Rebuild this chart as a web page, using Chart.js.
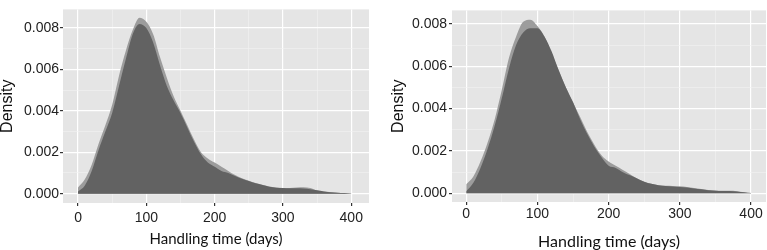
<!DOCTYPE html>
<html>
<head>
<meta charset="utf-8">
<script src="https://cdn.jsdelivr.net/npm/chart.js@4"></script>
<style>
  body { margin: 0; background: #fff; }
  .wrap { position: relative; width: 767px; height: 250px; }
  canvas { position: absolute; top: 0; }
</style>
</head>
<body>
<div class="wrap">
  <canvas id="leftDensity" width="380" height="250" style="left:0"></canvas>
  <canvas id="rightDensity" width="382" height="250" style="left:385px"></canvas>
</div>
<script>
// handling time grid (days)
const days = [0, 10, 20, 30, 40, 50, 60, 70, 80, 90, 100, 110, 120, 130, 140, 150, 160, 170, 180, 190,
  200, 210, 220, 230, 240, 250, 260, 270, 280, 290, 300, 310, 320, 330, 340, 350, 360, 370, 380, 390, 400];

// left panel densities
const leftLight = [0.0003, 0.0007, 0.0014, 0.0024, 0.0033, 0.0043, 0.0057, 0.0069, 0.0079, 0.0085, 0.0083,
  0.0077, 0.0066, 0.0056, 0.0047, 0.0040, 0.0033, 0.0026, 0.0020, 0.0017,
  0.0015, 0.0013, 0.0011, 0.0009, 0.00075, 0.00063, 0.00052, 0.00043, 0.00035, 0.0003,
  0.00028, 0.00028, 0.0003, 0.00031, 0.00027, 0.00015, 0.0001, 0.00007, 0.00005, 0.00003, 0.00001];
const leftDark = [0.0001, 0.0004, 0.0011, 0.0021, 0.0030, 0.0039, 0.0052, 0.0065, 0.0077, 0.0082, 0.0080,
  0.0073, 0.0062, 0.0052, 0.0045, 0.0039, 0.0032, 0.0025, 0.0019, 0.0015,
  0.0013, 0.0011, 0.0010, 0.00085, 0.00072, 0.00061, 0.0005, 0.00042, 0.00034, 0.00029,
  0.00027, 0.00026, 0.00026, 0.00025, 0.00022, 0.00016, 0.00011, 0.00007, 0.00005, 0.00003, 0.00001];

// right panel densities
const rightLight = [0.00043, 0.0008, 0.0015, 0.0024, 0.0035, 0.0049, 0.0064, 0.0074, 0.0081, 0.0082, 0.0079,
  0.0074, 0.0066, 0.0058, 0.0050, 0.0043, 0.0036, 0.0029, 0.0023, 0.0018,
  0.0015, 0.0013, 0.0011, 0.0009, 0.0007, 0.00055, 0.00045, 0.00038, 0.00036, 0.00035,
  0.00033, 0.0003, 0.00025, 0.0002, 0.00016, 0.00013, 0.00012, 0.00012, 0.0001, 0.00005, 0.00001];
const rightDark = [0.0001, 0.0005, 0.0012, 0.0021, 0.0032, 0.0045, 0.0059, 0.0070, 0.0076, 0.0078, 0.0078,
  0.0074, 0.0067, 0.0058, 0.0050, 0.0043, 0.0035, 0.0028, 0.0022, 0.0017,
  0.0013, 0.0012, 0.0010, 0.00085, 0.0007, 0.00055, 0.00045, 0.00038, 0.00034, 0.00032,
  0.0003, 0.00027, 0.00023, 0.00019, 0.00015, 0.00012, 0.00011, 0.00011, 0.00009, 0.00005, 0.00001];

// axis ticks
const xTicks = [0, 50, 100, 150, 200, 250, 300, 350, 400];
const yTicks = [0, 0.001, 0.002, 0.003, 0.004, 0.005, 0.006, 0.007, 0.008];

const panelBg = {
  id: "panelBg",
  beforeDraw(chart) {
    const { ctx, chartArea: a } = chart;
    ctx.save();
    ctx.fillStyle = "#e5e5e5";
    ctx.fillRect(a.left, a.top, a.right - a.left, a.bottom - a.top);
    ctx.restore();
  },
};

const isMajorX = (v) => Math.round(v) % 100 === 0;
const isMajorY = (v) => Math.round(v * 1000) % 2 === 0;

function makeChart(id, light, dark, cfg) {
  const ctx = document.getElementById(id).getContext("2d");
  return new Chart(ctx, {
    type: "line",
    data: {
      labels: days,
      datasets: [
        {
          label: "dark",
          data: days.map((d, i) => ({ x: d, y: dark[i] })),
          backgroundColor: "#626262",
          borderWidth: 0,
          pointRadius: 0,
          fill: "origin",
          cubicInterpolationMode: "monotone",
        },
        {
          label: "light",
          data: days.map((d, i) => ({ x: d, y: light[i] })),
          backgroundColor: "#9c9c9c",
          borderWidth: 0,
          pointRadius: 0,
          fill: "origin",
          cubicInterpolationMode: "monotone",
        },
      ],
    },
    options: {
      responsive: false,
      animation: false,
      devicePixelRatio: 1,
      layout: { padding: { top: cfg.top, right: cfg.right, left: 0, bottom: 0 } },
      plugins: { legend: { display: false }, tooltip: { enabled: false } },
      scales: {
        x: {
          type: "linear",
          min: cfg.xMin,
          max: cfg.xMax,
          afterBuildTicks: (s) => { s.ticks = xTicks.map((v) => ({ value: v })); },
          afterFit: (s) => { s.height = cfg.xH; },
          border: { display: false },
          grid: {
            color: (c) => (isMajorX(c.tick.value) ? "#ffffff" : "#f2f2f2"),
            lineWidth: (c) => (isMajorX(c.tick.value) ? 1.2 : 0.6),
            tickColor: (c) => (isMajorX(c.tick.value) ? "#333333" : "rgba(0,0,0,0)"),
            tickLength: 3,
          },
          ticks: {
            maxRotation: 0,
            autoSkip: false,
            padding: cfg.xPad,
            color: "#222",
            font: { family: "Liberation Sans, Arial", size: 14 },
            callback: (v) => (isMajorX(v) ? String(v) : ""),
          },
          title: {
            display: true,
            text: "Handling time (days)",
            color: "#111",
            font: { family: "Lato", size: cfg.titleSize, lineHeight: 1 },
            padding: { top: 0, bottom: cfg.titleBottom },
          },
        },
        y: {
          min: cfg.yMin,
          max: cfg.yMax,
          afterBuildTicks: (s) => { s.ticks = yTicks.map((v) => ({ value: v })); },
          afterFit: (s) => { s.width = cfg.yW; },
          border: { display: false },
          grid: {
            color: (c) => (isMajorY(c.tick.value) ? "#ffffff" : "#f2f2f2"),
            lineWidth: (c) => (isMajorY(c.tick.value) ? 1.2 : 0.6),
            tickColor: (c) => (isMajorY(c.tick.value) ? "#333333" : "rgba(0,0,0,0)"),
            tickLength: 3,
          },
          ticks: {
            autoSkip: false,
            padding: cfg.yPad,
            color: "#222",
            font: { family: "Liberation Sans, Arial", size: 14 },
            callback: (v) => (isMajorY(v) ? v.toFixed(3) : ""),
          },
          title: {
            display: true,
            text: "Density",
            color: "#111",
            font: { family: "Liberation Sans, Arial", size: cfg.yTitleSize, lineHeight: 1 },
            padding: { top: cfg.yTitleTop, bottom: 0 },
          },
        },
      },
    },
    plugins: [panelBg],
  });
}

makeChart("leftDensity", leftLight, leftDark, {
  top: 4, right: 11, xMin: -22, xMax: 426, yMin: -0.00045, yMax: 0.0089,
  xH: 47, yW: 63, xPad: 4, yPad: 1, titleSize: 15, titleBottom: 3, yTitleTop: 0, yTitleSize: 16,
});
makeChart("rightDensity", rightLight, rightDark, {
  top: 2, right: 1, xMin: -20, xMax: 421, yMin: -0.00041, yMax: 0.00864,
  xH: 48, yW: 67, xPad: 1, yPad: 2, titleSize: 16, titleBottom: 0, yTitleTop: 6, yTitleSize: 16,
});
</script>
</body>
</html>
